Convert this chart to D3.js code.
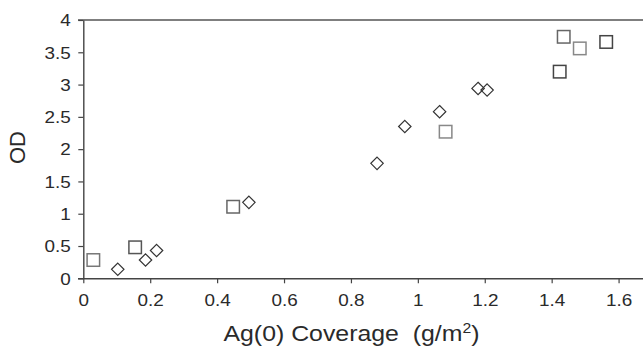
<!DOCTYPE html>
<html><head><meta charset="utf-8">
<script src="https://cdn.jsdelivr.net/npm/d3@7"></script>
<style>body{margin:0;background:#fff}svg{display:block}text{font-family:"Liberation Sans",Arial,sans-serif}</style>
</head><body><svg id="c" width="643" height="347"></svg>
<script>
const squareX = [0.030, 0.155, 0.448, 1.083, 1.424, 1.436, 1.484, 1.563];
const squareY = [0.283, 0.480, 1.108, 2.270, 3.200, 3.740, 3.560, 3.660];
const squareStroke = ["#777", "#555", "#666", "#888", "#444", "#666", "#888", "#444"];
const diamondX = [0.103, 0.186, 0.219, 0.495, 0.878, 0.961, 1.065, 1.180, 1.207];
const diamondY = [0.139, 0.283, 0.430, 1.176, 1.780, 2.350, 2.580, 2.940, 2.915];
const xTicks = [0, 0.2, 0.4, 0.6, 0.8, 1, 1.2, 1.4, 1.6];
const yTicks = [0, 0.5, 1, 1.5, 2, 2.5, 3, 3.5, 4];

const svg = d3.select("#c");
const x = d3.scaleLinear().domain([0, 1.673]).range([83.3, 643]);
const y = d3.scaleLinear().domain([0, 4]).range([278.3, 20]);
const axisColor = "#444";
const sx = 1.18;

// top frame line
svg.append("line").attr("x1", 78).attr("x2", 643).attr("y1", y(4)).attr("y2", y(4))
  .attr("stroke", "#555").attr("stroke-width", 1.4);

const gx = svg.append("g").attr("transform", `translate(0,${y(0)})`)
  .call(d3.axisBottom(x).tickValues(xTicks).tickFormat(d3.format("")).tickSize(5).tickSizeOuter(0));
gx.select(".domain").attr("stroke", axisColor).attr("stroke-width", 1.4).attr("d", `M78,0.5H643`);
gx.selectAll(".tick line").attr("stroke", axisColor).attr("stroke-width", 1.2);
gx.selectAll(".tick text").attr("font-size", 16).attr("fill", "#2a2a2a").attr("y", 0).attr("dy", "1.72em")
  .attr("transform", `scale(${sx},1)`).attr("font-family", '"Liberation Sans",Arial,sans-serif');

const gy = svg.append("g").attr("transform", `translate(${x(0)},0)`)
  .call(d3.axisLeft(y).tickValues(yTicks).tickFormat(d3.format("")).tickSize(5).tickSizeOuter(0));
gy.select(".domain").attr("stroke", axisColor).attr("stroke-width", 1.4);
gy.selectAll(".tick line").attr("stroke", axisColor).attr("stroke-width", 1.2);
gy.selectAll(".tick text").attr("font-size", 16).attr("fill", "#2a2a2a").attr("x", -12.6 / sx).attr("dy", "0.36em")
  .attr("transform", `scale(${sx},1)`).attr("font-family", '"Liberation Sans",Arial,sans-serif');

// squares
const sq = 12.5;
svg.append("g").selectAll("rect").data(squareX.map((v, i) => [v, squareY[i], squareStroke[i]])).join("rect")
  .attr("x", d => x(d[0]) - sq / 2).attr("y", d => y(d[1]) - sq / 2)
  .attr("width", sq).attr("height", sq)
  .attr("fill", "none").attr("stroke", d => d[2]).attr("stroke-width", 1.5);

// diamonds
const dr = 6.2;
svg.append("g").selectAll("path").data(diamondX.map((v, i) => [v, diamondY[i]])).join("path")
  .attr("d", d => { const cx = x(d[0]), cy = y(d[1]); return `M${cx},${cy - dr}L${cx + dr},${cy}L${cx},${cy + dr}L${cx - dr},${cy}Z`; })
  .attr("fill", "none").attr("stroke", "#333").attr("stroke-width", 1.2);

// axis titles
const xt = svg.append("text").attr("text-anchor", "middle").attr("font-size", 22).attr("fill", "#2a2a2a")
  .attr("transform", `translate(351.5,340.5) scale(1.13,1)`);
xt.append("tspan").text("Ag(0) Coverage\u00a0\u00a0(g/m");
xt.append("tspan").attr("font-size", 14).attr("dy", -8).text("2");
xt.append("tspan").attr("dy", 8).text(")");

svg.append("text").attr("text-anchor", "middle").attr("font-size", 22).attr("fill", "#2a2a2a")
  .attr("transform", "translate(25,147.5) rotate(-90)").text("OD");
</script></body></html>
